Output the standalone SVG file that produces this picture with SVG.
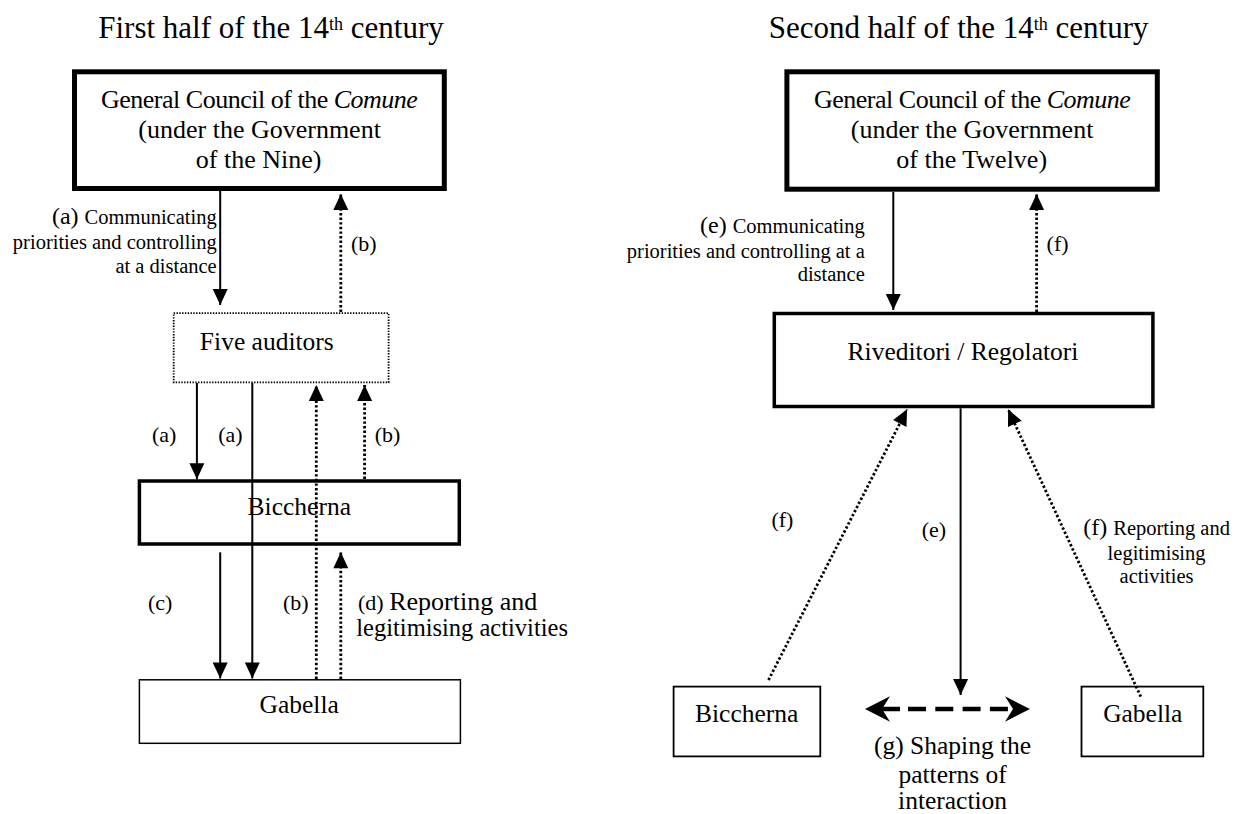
<svg xmlns="http://www.w3.org/2000/svg" width="1241" height="814" viewBox="0 0 1241 814">
<style>
text{font-family:"Liberation Serif","Times New Roman",serif;fill:#000}
.title{font-size:31px;text-anchor:middle}
.sup{font-size:18px}
.node{font-size:25.5px;text-anchor:middle}
.big{font-size:26px;text-anchor:middle}
.lab{font-size:22px}
.plab{font-size:24px}
.sm{font-size:20.5px}
.mid{text-anchor:middle}
.end{text-anchor:end}
.box{fill:#fff;stroke:#000}
.solid{stroke:#000;stroke-width:2;fill:none}
.dot{stroke:#000;stroke-width:2.8;stroke-dasharray:2.4 2.2;fill:none}
</style>
<defs>
<marker id="ah" markerUnits="userSpaceOnUse" markerWidth="16" markerHeight="15" refX="16" refY="7.5" orient="auto" overflow="visible">
<path d="M0,0 L16,7.5 L0,15 z" fill="#000"/>
</marker>
</defs>

<text class="title" x="271" y="37.5">First half of the 14<tspan class="sup" dy="-8">th</tspan><tspan dy="8"> century</tspan></text>
<text class="title" x="958.6" y="37.5">Second half of the 14<tspan class="sup" dy="-8">th</tspan><tspan dy="8"> century</tspan></text>

<g id="council-nine">
<rect class="box" x="74.5" y="71.8" width="369.8" height="116.7" stroke-width="5"/>
<text class="big" x="259.4" y="108.3" textLength="317" lengthAdjust="spacing">General Council of the <tspan font-style="italic">Comune</tspan></text>
<text class="big" x="259.6" y="138.3">(under the Government</text>
<text class="big" x="258.6" y="168.3">of the Nine)</text>
</g>

<g id="five-auditors">
<rect class="box" x="173.7" y="313.2" width="214.9" height="69.2" stroke-width="1.8" stroke-dasharray="1.4 1.4"/>
<text class="node" x="266.8" y="349.5" font-size="28">Five auditors</text>
</g>

<g id="biccherna-left">
<rect class="box" x="139.4" y="481" width="319.9" height="63" stroke-width="3.5"/>
<text class="node" x="299.3" y="515">Biccherna</text>
</g>

<g id="gabella-left">
<rect class="box" x="139.4" y="679.8" width="321" height="63.5" stroke-width="1.5"/>
<text class="node" x="299.2" y="713.3">Gabella</text>
</g>

<g id="council-twelve">
<rect class="box" x="786.9" y="71.8" width="370.4" height="117.4" stroke-width="5"/>
<text class="big" x="972.4" y="108.3" textLength="317" lengthAdjust="spacing">General Council of the <tspan font-style="italic">Comune</tspan></text>
<text class="big" x="972.1" y="138.3">(under the Government</text>
<text class="big" x="971.7" y="168.3">of the Twelve)</text>
</g>

<g id="riveditori">
<rect class="box" x="774.3" y="313.5" width="378.6" height="93" stroke-width="3.5"/>
<text class="node" x="963" y="360">Riveditori / Regolatori</text>
</g>

<g id="biccherna-right">
<rect class="box" x="673.6" y="686.6" width="146.7" height="69.8" stroke-width="1.8"/>
<text class="node" x="746.7" y="721.7">Biccherna</text>
</g>

<g id="gabella-right">
<rect class="box" x="1081.5" y="686.6" width="121.8" height="69.8" stroke-width="1.8"/>
<text class="node" x="1142.8" y="721.7">Gabella</text>
</g>

<g id="connectors">
<line class="solid" x1="220.2" y1="191" x2="220.2" y2="305" marker-end="url(#ah)"/>
<line class="dot" x1="340.8" y1="312" x2="340.8" y2="194" marker-end="url(#ah)"/>
<line class="solid" x1="196.9" y1="383" x2="196.9" y2="479.3" marker-end="url(#ah)"/>
<line class="solid" x1="252.3" y1="383" x2="252.3" y2="678.5" marker-end="url(#ah)"/>
<line class="dot" x1="316.3" y1="679" x2="316.3" y2="385" marker-end="url(#ah)"/>
<line class="dot" x1="364.6" y1="479" x2="364.6" y2="385" marker-end="url(#ah)"/>
<line class="solid" x1="220.2" y1="552.3" x2="220.2" y2="678.5" marker-end="url(#ah)"/>
<line class="dot" x1="340.8" y1="679" x2="340.8" y2="552.3" marker-end="url(#ah)"/>

<line class="solid" x1="893.3" y1="192" x2="893.3" y2="310" marker-end="url(#ah)"/>
<line class="dot" x1="1036.6" y1="312" x2="1036.6" y2="194" marker-end="url(#ah)"/>
<line class="dot" x1="768.5" y1="680" x2="907.1" y2="409.3" marker-end="url(#ah)"/>
<line class="solid" x1="960.6" y1="408.3" x2="960.6" y2="695" marker-end="url(#ah)"/>
<line class="dot" x1="1140.8" y1="696.7" x2="1008.1" y2="409.3" marker-end="url(#ah)"/>

<g id="g-arrow">
<line x1="880" y1="709" x2="900" y2="709" stroke="#000" stroke-width="4.5"/>
<line x1="908" y1="709" x2="1012" y2="709" stroke="#000" stroke-width="4.5" stroke-dasharray="18 9.3"/>
<path d="M865,709 L890,696.3 L882,709 L890,721.7 z" fill="#000"/>
<path d="M1030,709 L1005,696.3 L1013,709 L1005,721.7 z" fill="#000"/>
</g>
</g>

<g id="labels">
<text class="end" x="216.7" y="224.2"><tspan class="plab">(a) </tspan><tspan class="sm">Communicating</tspan></text>
<text class="sm end" x="216.7" y="249.2">priorities and controlling</text>
<text class="sm end" x="216.7" y="272.8">at a distance</text>
<text class="lab mid" x="363.8" y="250.5">(b)</text>

<text class="lab mid" x="164.1" y="442">(a)</text>
<text class="lab mid" x="230.5" y="442">(a)</text>
<text class="lab mid" x="387.5" y="442">(b)</text>

<text class="lab mid" x="160.1" y="610">(c)</text>
<text class="lab mid" x="295.8" y="610">(b)</text>
<text x="358" y="609.5"><tspan class="lab">(d) </tspan><tspan font-size="26px">Reporting and</tspan></text>
<text x="356.3" y="636" font-size="24.5px">legitimising activities</text>

<text class="end" x="864.8" y="233"><tspan class="plab">(e) </tspan><tspan class="sm">Communicating</tspan></text>
<text class="sm end" x="864.8" y="258">priorities and controlling at a</text>
<text class="sm end" x="864.8" y="281.4">distance</text>
<text class="lab mid" x="1057.6" y="250.5">(f)</text>

<text class="lab mid" x="782.4" y="527">(f)</text>
<text class="lab mid" x="934" y="537">(e)</text>
<text class="mid" x="1156.6" y="535"><tspan class="plab">(f) </tspan><tspan class="sm">Reporting and</tspan></text>
<text class="sm mid" x="1156.6" y="560">legitimising</text>
<text class="sm mid" x="1156.6" y="583">activities</text>

<text class="node" x="952.6" y="754">(g) Shaping the</text>
<text class="node" x="952.6" y="782.5">patterns of</text>
<text class="node" x="952.6" y="809">interaction</text>
</g>
</svg>
